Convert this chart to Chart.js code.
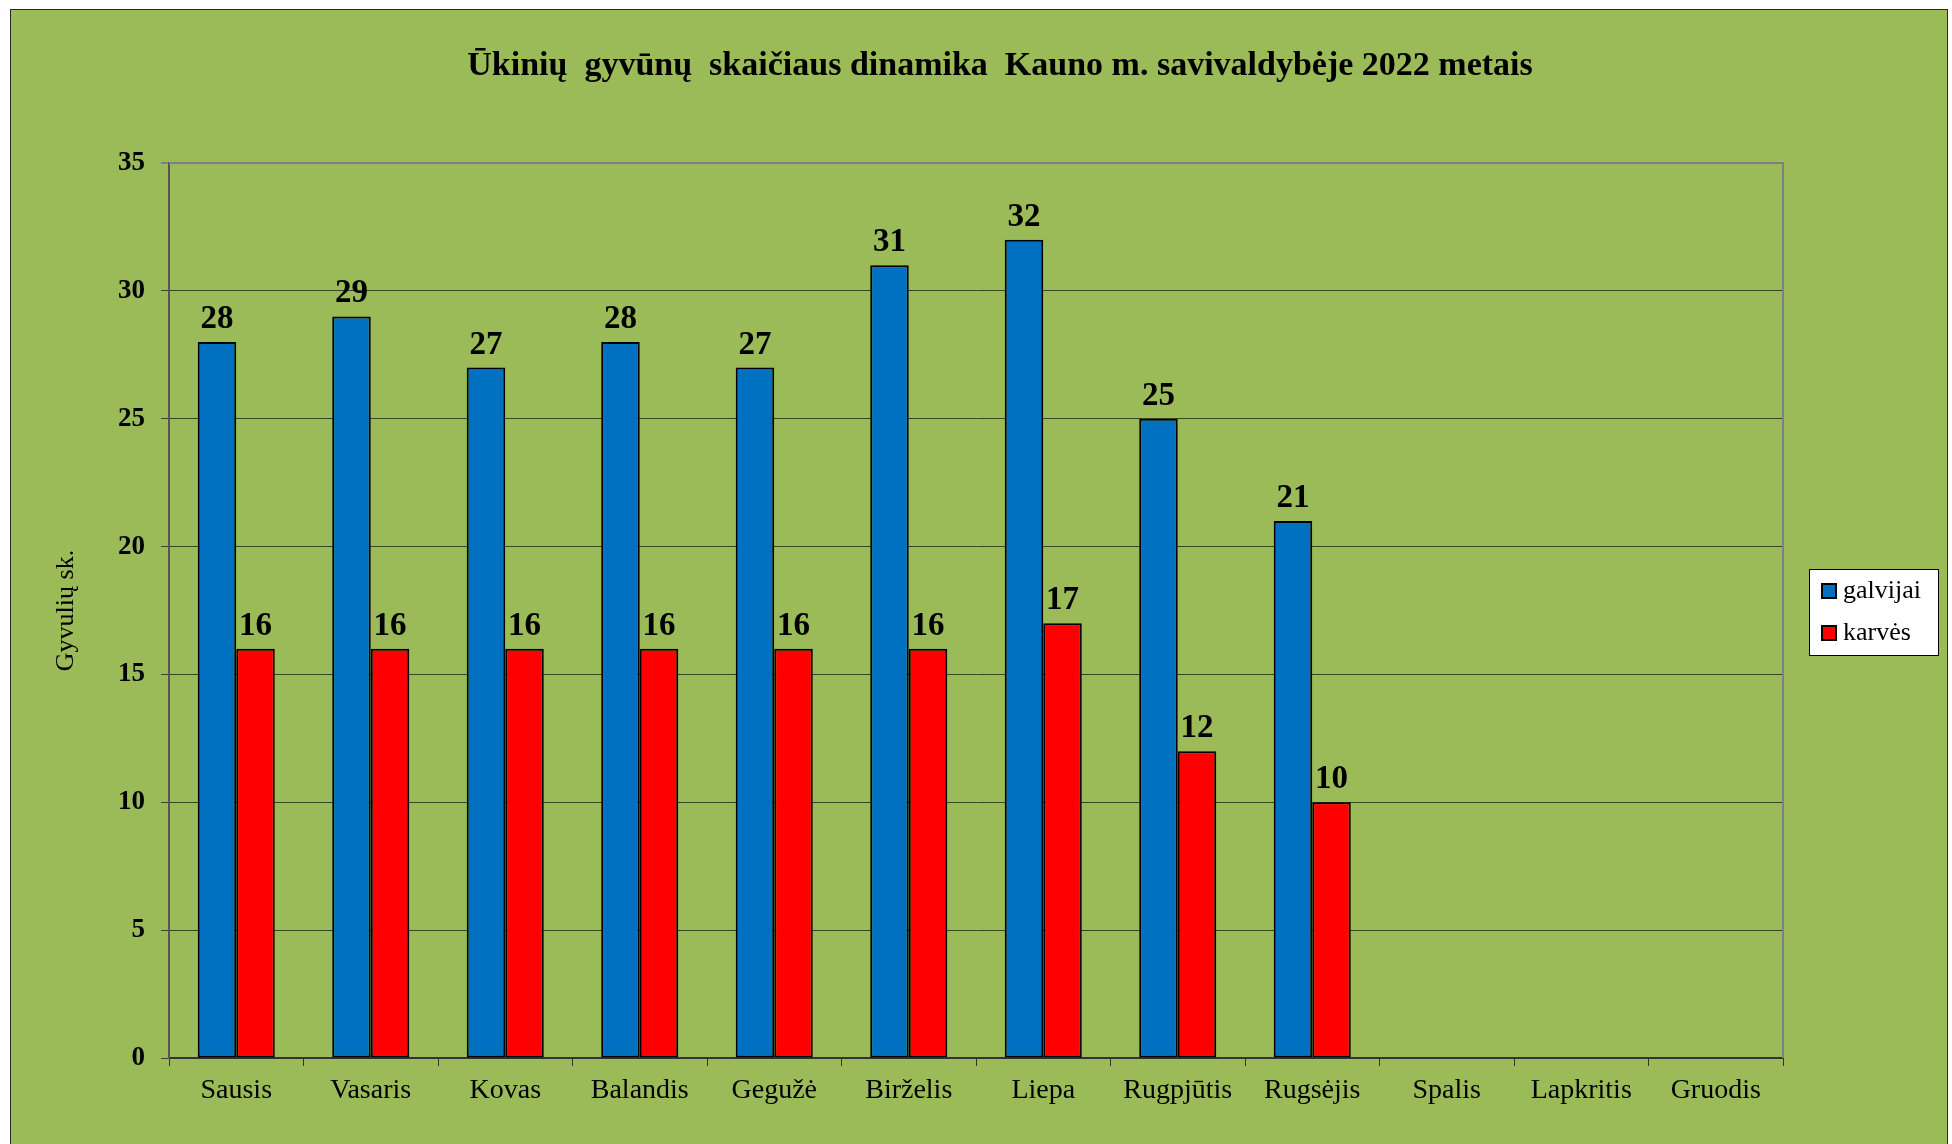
<!DOCTYPE html>
<html>
<head>
<meta charset="utf-8">
<script src="https://cdn.jsdelivr.net/npm/chart.js@4"></script>
<style>
  html, body { margin: 0; padding: 0; background: #ffffff; }
  #wrap { width: 1952px; height: 1144px; position: relative; }
</style>
</head>
<body>
<div id="wrap"><canvas id="c" width="1952" height="1144"></canvas></div>
<script>
const categories = ['Sausis', 'Vasaris', 'Kovas', 'Balandis', 'Gegužė', 'Birželis', 'Liepa', 'Rugpjūtis', 'Rugsėjis', 'Spalis', 'Lapkritis', 'Gruodis'];
const galvijai = [28, 29, 27, 28, 27, 31, 32, 25, 21, null, null, null];
const karves = [16, 16, 16, 16, 16, 16, 17, 12, 10, null, null, null];
const seriesNames = ['galvijai', 'karvės'];
const yTicks = [0, 5, 10, 15, 20, 25, 30, 35];
const chartTitle = 'Ūkinių  gyvūnų  skaičiaus dinamika  Kauno m. savivaldybėje 2022 metais';
const yAxisTitle = 'Gyvulių sk.';

const SERIF = '"Liberation Serif", "Times New Roman", serif';
const GREEN = '#9BBB59';

const panelPlugin = {
  id: 'panel',
  beforeDraw(chart) {
    const ctx = chart.ctx;
    ctx.save();
    ctx.fillStyle = '#ffffff';
    ctx.fillRect(0, 0, chart.width, chart.height);
    ctx.fillStyle = GREEN;
    ctx.fillRect(10, 9, 1938, chart.height);
    ctx.strokeStyle = '#2a2a2a';
    ctx.lineWidth = 1;
    ctx.strokeRect(10.5, 9.5, 1937, chart.height + 10);
    // title
    ctx.fillStyle = '#000000';
    ctx.font = 'bold 34px ' + SERIF;
    ctx.textAlign = 'center';
    ctx.textBaseline = 'alphabetic';
    ctx.fillText(chartTitle, 1000, 75);
    ctx.restore();
  },
  afterDraw(chart) {
    const ctx = chart.ctx;
    const a = chart.chartArea;
    ctx.save();
    // plot area border (top & right) in grey
    ctx.strokeStyle = '#808080';
    ctx.lineWidth = 2;
    ctx.beginPath();
    ctx.moveTo(a.left, a.top);
    ctx.lineTo(a.right, a.top);
    ctx.lineTo(a.right, a.bottom);
    ctx.stroke();
    // legend
    const lx = 1809, ly = 569, lw = 129, lh = 86;
    ctx.fillStyle = '#ffffff';
    ctx.fillRect(lx, ly, lw, lh);
    ctx.strokeStyle = '#000000';
    ctx.lineWidth = 1;
    ctx.strokeRect(lx + 0.5, ly + 0.5, lw, lh);
    chart.data.datasets.forEach((ds, i) => {
      const cy = ly + 22 + i * 42;
      ctx.fillStyle = ds.backgroundColor;
      ctx.fillRect(lx + 13, cy - 7, 14, 14);
      ctx.strokeStyle = '#000000';
      ctx.lineWidth = 2;
      ctx.strokeRect(lx + 13, cy - 7, 14, 14);
      ctx.fillStyle = '#000000';
      ctx.font = '26px ' + SERIF;
      ctx.textBaseline = 'middle';
      ctx.textAlign = 'left';
      ctx.fillText(ds.label, lx + 34, cy);
    });
    ctx.restore();
  }
};

const labelPlugin = {
  id: 'valueLabels',
  afterDatasetsDraw(chart) {
    const ctx = chart.ctx;
    ctx.save();
    ctx.font = 'bold 33px ' + SERIF;
    ctx.fillStyle = '#000000';
    ctx.textAlign = 'center';
    ctx.textBaseline = 'alphabetic';
    chart.data.datasets.forEach((ds, i) => {
      const meta = chart.getDatasetMeta(i);
      meta.data.forEach((el, j) => {
        const v = ds.data[j];
        if (v === null || v === undefined) return;
        ctx.fillText(String(v), el.x, el.y - 14);
      });
    });
    ctx.restore();
  }
};

new Chart(document.getElementById('c'), {
  type: 'bar',
  data: {
    labels: categories,
    datasets: [
      { label: seriesNames[0], data: galvijai, backgroundColor: '#0070C0', borderColor: '#000000', borderWidth: 2, borderSkipped: false },
      { label: seriesNames[1], data: karves, backgroundColor: '#FF0000', borderColor: '#000000', borderWidth: 2, borderSkipped: false }
    ]
  },
  options: {
    responsive: false,
    animation: false,
    devicePixelRatio: 1,
    layout: { padding: { left: 0, right: 169, top: 163, bottom: 0 } },
    datasets: { bar: { barPercentage: 1.0, categoryPercentage: 0.573 } },
    plugins: {
      legend: { display: false },
      tooltip: { enabled: false },
      title: { display: false }
    },
    scales: {
      x: {
        grid: { display: true, drawOnChartArea: false, drawTicks: true, tickLength: 8, color: '#333333', lineWidth: 1, offset: true },
        border: { display: true, color: '#333333', width: 2 },
        ticks: { color: '#000000', font: { family: SERIF, size: 28 }, padding: 8, maxRotation: 0, autoSkip: false },
        afterFit(scale) { scale.height = 86; }
      },
      y: {
        min: 0,
        max: 35,
        afterBuildTicks(scale) { scale.ticks = yTicks.map(v => ({ value: v })); },
        grid: {
          drawTicks: true,
          tickLength: 8,
          color: (c) => (c.tick && c.tick.value === 35) ? '#808080' : '#3a4528',
          lineWidth: (c) => (c.tick && c.tick.value === 35) ? 2 : 1
        },
        border: { display: true, color: '#555555', width: 2 },
        ticks: { color: '#000000', font: { family: SERIF, size: 27, weight: 'bold' }, padding: 16 },
        title: {
          display: true,
          text: yAxisTitle,
          color: '#000000',
          font: { family: SERIF, size: 26 },
          padding: { top: 51, bottom: 0 }
        },
        afterFit(scale) { scale.width = 169; }
      }
    }
  },
  plugins: [panelPlugin, labelPlugin]
});
</script>
</body>
</html>
